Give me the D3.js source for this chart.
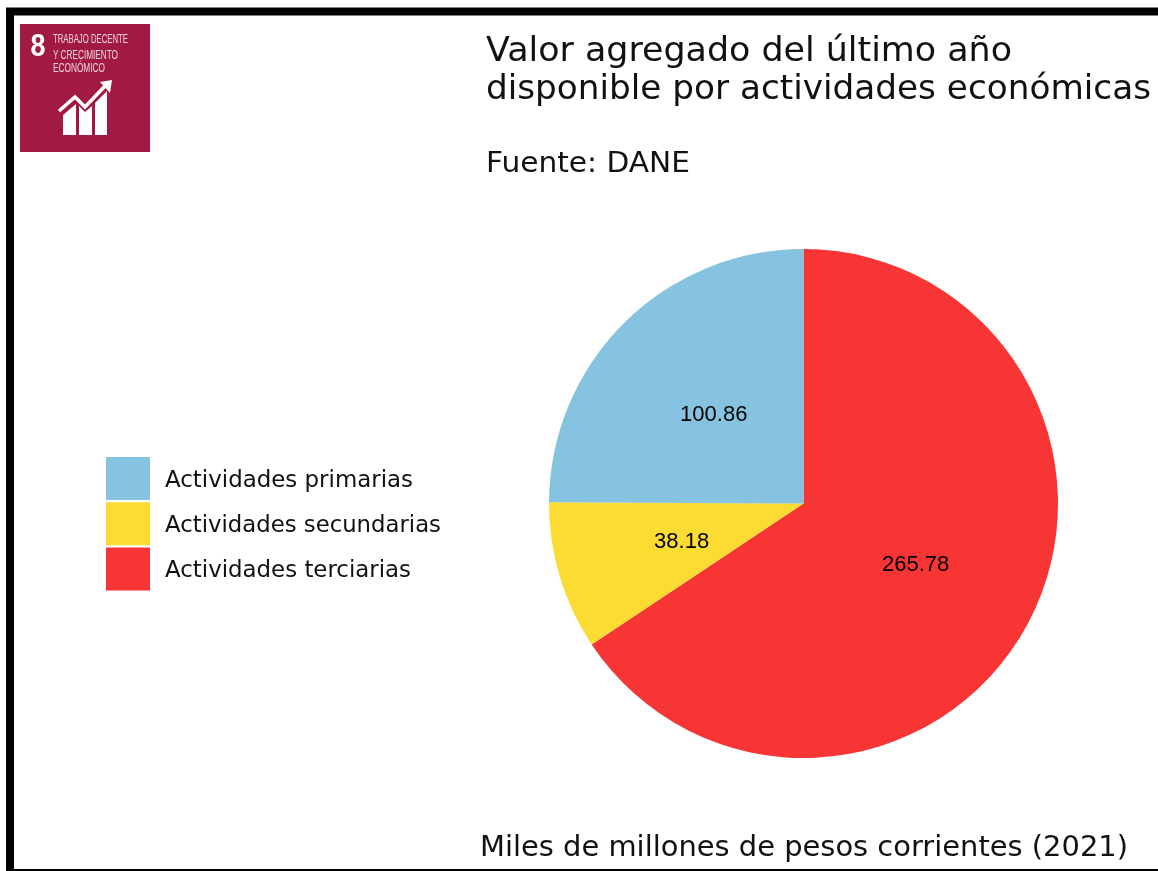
<!DOCTYPE html>
<html>
<head>
<meta charset="utf-8">
<script src="https://cdn.jsdelivr.net/npm/d3@7"></script>
<style>
  html, body { margin: 0; padding: 0; background: #fff; overflow: hidden; }
  svg { filter: blur(0.35px); }
  text { fill: #111; }
  .title { font-family: "DejaVu Sans", sans-serif; }
  .slice-label { font-family: "Liberation Sans", Arial, sans-serif; font-size: 22px; text-anchor: middle; fill: #000; }
</style>
</head>
<body>
<svg id="chart" width="1158" height="871"></svg>
<script>
const categories = ["Actividades primarias", "Actividades secundarias", "Actividades terciarias"];
const values = [100.86, 38.18, 265.78];
const colors = ["#85c3e0", "#fcdb32", "#f73535"];
const valueLabels = ["100.86", "38.18", "265.78"];
const titleLines = ["Valor agregado del último año", "disponible por actividades económicas"];
const sourceText = "Fuente: DANE";
const unitText = "Miles de millones de pesos corrientes (2021)";
const badgeLines = ["TRABAJO DECENTE", "Y CRECIMIENTO", "ECONÓMICO"];

const svg = d3.select("#chart");

svg.append("defs").append("filter")
  .attr("id", "soft")
  .append("feGaussianBlur")
  .attr("stdDeviation", 0.6);

// black frame, the picture has no right side to it
svg.append("path")
  .attr("d", "M10,871V11.5H1158")
  .attr("fill", "none")
  .attr("stroke", "#000")
  .attr("stroke-width", 8);
svg.append("rect")
  .attr("x", 6).attr("y", 869)
  .attr("width", 1152).attr("height", 2)
  .attr("fill", "#000");

// SDG 8 badge
const badge = svg.append("g").attr("transform", "translate(20,24)");
badge.append("rect")
  .attr("width", 130).attr("height", 128)
  .attr("fill", "#a21942");

const badgeContent = badge.append("g").attr("filter", "url(#soft)");
badgeContent.append("text")
  .attr("x", 10.5).attr("y", 32)
  .attr("font-family", "'Liberation Sans', sans-serif")
  .attr("font-weight", "bold")
  .attr("font-size", 32)
  .style("fill", "#fff")
  .attr("textLength", 15)
  .attr("lengthAdjust", "spacingAndGlyphs")
  .text("8");
badgeContent.selectAll("text.badge-line")
  .data(badgeLines)
  .enter().append("text")
  .attr("class", "badge-line")
  .attr("x", 33)
  .attr("y", (d, i) => [19, 35, 48][i])
  .attr("font-family", "'Liberation Sans', sans-serif")
  .attr("font-size", 12)
  .style("fill", "#f0d6de")
  .attr("textLength", (d, i) => [75, 65, 52][i])
  .attr("lengthAdjust", "spacingAndGlyphs")
  .text(d => d);

// chart icon in the badge
badgeContent.selectAll("path.bar")
  .data(["M43,111V91L56,80V111Z", "M59,111V82L65,88L72,82V111Z", "M75,111V79L87,67V111Z"])
  .enter().append("path")
  .attr("class", "bar")
  .attr("d", d => d)
  .attr("fill", "#fff");
badgeContent.append("path")
  .attr("d", "M39,87L55,73L65,83L86,61")
  .attr("fill", "none")
  .attr("stroke", "#fff")
  .attr("stroke-width", 3.5);
badgeContent.append("path")
  .attr("d", "M80,58L92,56L90,69Z")
  .attr("fill", "#fff");

// titles
svg.selectAll("text.title-line")
  .data(titleLines)
  .enter().append("text")
  .attr("class", "title title-line")
  .attr("x", 486)
  .attr("y", (d, i) => 61 + i * 38)
  .attr("font-size", 34)
  .attr("textLength", (d, i) => [526, 665][i])
  .attr("lengthAdjust", "spacingAndGlyphs")
  .text(d => d);

svg.append("text")
  .attr("class", "title")
  .attr("x", 486).attr("y", 172)
  .attr("font-size", 28.5)
  .attr("textLength", 204)
  .attr("lengthAdjust", "spacingAndGlyphs")
  .text(sourceText);

svg.append("text")
  .attr("class", "title")
  .attr("x", 480).attr("y", 856)
  .attr("font-size", 28.5)
  .attr("textLength", 648)
  .attr("lengthAdjust", "spacingAndGlyphs")
  .text(unitText);

// pie, clockwise from 12 o'clock: terciarias, secundarias, primarias
const radius = 254.5;
const pieData = categories.map((c, i) => ({ name: c, value: values[i], color: colors[i], label: valueLabels[i] }));
const pie = d3.pie()
  .sort(null)
  .value(d => d.value);
const arc = d3.arc().innerRadius(0).outerRadius(radius);

const pieGroup = svg.append("g").attr("transform", "translate(803.5,503.5)");
const arcs = pie(pieData.slice().reverse());

pieGroup.selectAll("path")
  .data(arcs)
  .enter().append("path")
  .attr("d", arc)
  .attr("fill", d => d.data.color);

pieGroup.selectAll("text")
  .data(arcs)
  .enter().append("text")
  .attr("class", "slice-label")
  .attr("transform", d => {
    const c = arc.centroid(d);
    return "translate(" + c[0] + "," + c[1] + ")";
  })
  .attr("dy", "0.35em")
  .text(d => d.data.label);

// legend
const legendY = d3.scaleBand()
  .domain(categories)
  .range([457, 590.5])
  .paddingInner(0.05);

const legend = svg.append("g");
legend.selectAll("rect")
  .data(pieData)
  .enter().append("rect")
  .attr("x", 106)
  .attr("y", d => legendY(d.name))
  .attr("width", 44)
  .attr("height", legendY.bandwidth())
  .attr("fill", d => d.color);
legend.selectAll("text")
  .data(pieData)
  .enter().append("text")
  .attr("class", "title")
  .attr("x", 165)
  .attr("y", d => legendY(d.name) + legendY.bandwidth() / 2)
  .attr("dy", "0.35em")
  .attr("font-size", 23)
  .attr("textLength", (d, i) => [248, 276, 246][i])
  .attr("lengthAdjust", "spacingAndGlyphs")
  .text(d => d.name);
</script>
</body>
</html>
